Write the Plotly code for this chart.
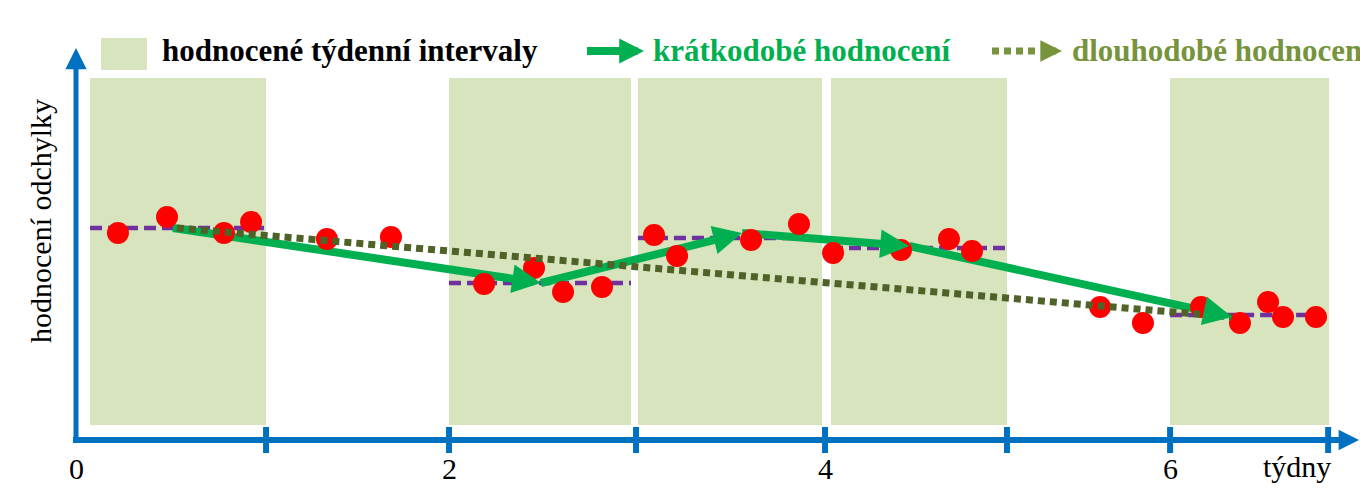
import math
import plotly.graph_objects as go

# ---------------- data (x in weeks, y in deviation-score units) ----------------
week_ticks = [0, 1.015, 1.992, 2.991, 4.0, 4.972, 5.843, 6.687]
week_tick_labels = ["0", "", "2", "", "4", "", "6", ""]
axis_unit_label = "týdny"
y_title = "hodnocení odchylky"

interval_start = [0.075, 1.992, 3.001, 4.032, 5.843]
interval_end = [1.015, 2.964, 3.984, 4.972, 6.692]
interval_mean = [5.30, 3.925, 5.05, 4.80, 3.125]

obs_x = [0.224, 0.486, 0.790, 0.935, 1.340, 1.682, 2.179, 2.446, 2.601, 2.809,
         3.087, 3.210, 3.605, 3.861, 4.043, 4.406, 4.662, 4.785, 5.469, 5.698,
         6.008, 6.216, 6.366, 6.446, 6.622]
obs_y = [5.175, 5.575, 5.175, 5.45, 5.025, 5.075, 3.90, 4.30, 3.70, 3.825,
         5.125, 4.60, 5.00, 5.40, 4.675, 4.75, 5.025, 4.725, 3.325, 2.925,
         3.325, 2.925, 3.45, 3.075, 3.075]

short_x = [0.518, 2.483, 3.557, 4.449, 6.174]
short_y = [5.30, 3.925, 5.175, 4.85, 3.075]

long_x = [0.539, 6.174]
long_y = [5.30, 3.075]

legend_labels = ["hodnocené týdenní intervaly", "krátkodobé hodnocení", "dlouhodobé hodnocení"]

# ---------------- styling ----------------
W, H = 1360, 500
SX, SY = 187.25, 40.0          # px per unit
X_RANGE = [-76 / SX, (W - 76) / SX]
Y_RANGE = [(440 - H) / SY, 440 / SY]

BLUE = "#0070c0"
RECT = "#d7e4bd"
PURPLE = "#7030a0"
RED = "#ff0000"
GREEN = "#00b050"
OLIVE_D = "#4f6228"
OLIVE_L = "#77933c"
FONT = "Liberation Serif, Times New Roman, serif"


def pxp(x):  # pixel -> paper x
    return x / W


def pyp(y):  # pixel -> paper y
    return 1 - y / H


def dy(ypix):  # pixel -> data y
    return (440 - ypix) / SY


fig = go.Figure()
shapes = []
ann = []

# shaded weekly intervals
for s, e in zip(interval_start, interval_end):
    shapes.append(dict(type="rect", xref="x", yref="y", x0=s, x1=e, y0=dy(425), y1=dy(78),
                       fillcolor=RECT, line=dict(width=0), layer="below"))

# interval means (purple dashed)
mx, my = [], []
for s, e, m in zip(interval_start, interval_end, interval_mean):
    mx += [s, e, None]
    my += [m, m, None]
fig.add_trace(go.Scatter(x=mx, y=my, mode="lines",
                         line=dict(color=PURPLE, width=4.5, dash="12px,6px"),
                         hoverinfo="skip", showlegend=False))

# short-term arrows: line segments (shortened) + heads
HEAD = 26
for i in range(len(short_x) - 1):
    x0, y0, x1, y1 = short_x[i], short_y[i], short_x[i + 1], short_y[i + 1]
    dxp, dyp = (x1 - x0) * SX, (y1 - y0) * SY
    n = math.hypot(dxp, dyp)
    xe = x1 - HEAD * dxp / n / SX
    ye = y1 - HEAD * dyp / n / SY
    fig.add_trace(go.Scatter(x=[x0, xe], y=[y0, ye], mode="lines",
                             line=dict(color=GREEN, width=8),
                             hoverinfo="skip", showlegend=False))
    L = 14
    ann.append(dict(x=x1, y=y1, xref="x", yref="y", text="", showarrow=True,
                    ax=-L * dxp / n, ay=L * dyp / n, arrowhead=2, arrowsize=0.72,
                    arrowwidth=8, arrowcolor=GREEN))

# observations
fig.add_trace(go.Scatter(x=obs_x, y=obs_y, mode="markers",
                         marker=dict(color=RED, size=22, line=dict(width=0)),
                         hoverinfo="skip", showlegend=False))

# long-term dotted line
fig.add_trace(go.Scatter(x=long_x, y=long_y, mode="lines",
                         line=dict(color=OLIVE_D, width=7, dash="7px,5px"),
                         hoverinfo="skip", showlegend=False))

# ---------------- axes ----------------
# y axis
shapes.append(dict(type="line", xref="paper", yref="paper", x0=pxp(76), x1=pxp(76),
                   y0=pyp(442), y1=pyp(68), line=dict(color=BLUE, width=5)))
ann.append(dict(x=pxp(76), y=pyp(48), xref="paper", yref="paper", text="", showarrow=True,
                ax=0, ay=12, arrowhead=2, arrowsize=0.85, arrowwidth=5, arrowcolor=BLUE))
# x axis
shapes.append(dict(type="line", xref="paper", yref="paper", x0=pxp(73), x1=pxp(1345),
                   y0=pyp(440), y1=pyp(440), line=dict(color=BLUE, width=6)))
ann.append(dict(x=pxp(1360), y=pyp(440), xref="paper", yref="paper", text="", showarrow=True,
                ax=-12, ay=0, arrowhead=2, arrowsize=0.68, arrowwidth=6, arrowcolor=BLUE))
# ticks
for t, lab in zip(week_ticks[1:], week_tick_labels[1:]):
    shapes.append(dict(type="line", xref="x", yref="paper", x0=t, x1=t,
                       y0=pyp(453), y1=pyp(427), line=dict(color=BLUE, width=6)))
for t, lab in zip(week_ticks, week_tick_labels):
    if lab:
        ann.append(dict(x=t, y=pyp(468), xref="x", yref="paper", text=lab, showarrow=False,
                        font=dict(family=FONT, size=30, color="black"),
                        xanchor="center", yanchor="middle"))
ann.append(dict(x=pxp(1297), y=pyp(466), xref="paper", yref="paper", text=axis_unit_label,
                showarrow=False, font=dict(family=FONT, size=30, color="black"),
                xanchor="center", yanchor="middle"))
ann.append(dict(x=pxp(41), y=pyp(221), xref="paper", yref="paper", text=y_title,
                showarrow=False, textangle=-90, font=dict(family=FONT, size=30, color="black"),
                xanchor="center", yanchor="middle"))

# ---------------- legend ----------------
LY = 51
shapes.append(dict(type="rect", xref="paper", yref="paper", x0=pxp(101), x1=pxp(147),
                   y0=pyp(70), y1=pyp(38), fillcolor=RECT, line=dict(width=0)))
ann.append(dict(x=pxp(160), y=pyp(LY), xref="paper", yref="paper", text="<b>%s</b>" % legend_labels[0],
                showarrow=False, font=dict(family=FONT, size=31, color="black"),
                xanchor="left", yanchor="middle"))
shapes.append(dict(type="line", xref="paper", yref="paper", x0=pxp(587), x1=pxp(625),
                   y0=pyp(LY), y1=pyp(LY), line=dict(color=GREEN, width=8)))
ann.append(dict(x=pxp(644), y=pyp(LY), xref="paper", yref="paper", text="", showarrow=True,
                ax=-14, ay=0, arrowhead=2, arrowsize=0.62, arrowwidth=8, arrowcolor=GREEN))
ann.append(dict(x=pxp(651), y=pyp(LY), xref="paper", yref="paper", text="<b>%s</b>" % legend_labels[1],
                showarrow=False, font=dict(family=FONT, size=31, color=GREEN),
                xanchor="left", yanchor="middle"))
shapes.append(dict(type="line", xref="paper", yref="paper", x0=pxp(992), x1=pxp(1040),
                   y0=pyp(LY), y1=pyp(LY), line=dict(color=OLIVE_L, width=7, dash="7px,5px")))
ann.append(dict(x=pxp(1062), y=pyp(LY), xref="paper", yref="paper", text="", showarrow=True,
                ax=-10, ay=0, arrowhead=2, arrowsize=0.62, arrowwidth=7, arrowcolor=OLIVE_L))
ann.append(dict(x=pxp(1070), y=pyp(LY), xref="paper", yref="paper", text="<b>%s</b>" % legend_labels[2],
                showarrow=False, font=dict(family=FONT, size=31, color=OLIVE_L),
                xanchor="left", yanchor="middle"))

fig.update_layout(
    width=W, height=H,
    margin=dict(l=0, r=0, t=0, b=0),
    paper_bgcolor="white", plot_bgcolor="white",
    xaxis=dict(range=X_RANGE, visible=False, fixedrange=True),
    yaxis=dict(range=Y_RANGE, visible=False, fixedrange=True),
    shapes=shapes, annotations=ann, showlegend=False,
)

fig.write_html("out.html", config={"displayModeBar": False},
               post_script="document.body.style.margin='0px';document.body.style.overflow='hidden';")
